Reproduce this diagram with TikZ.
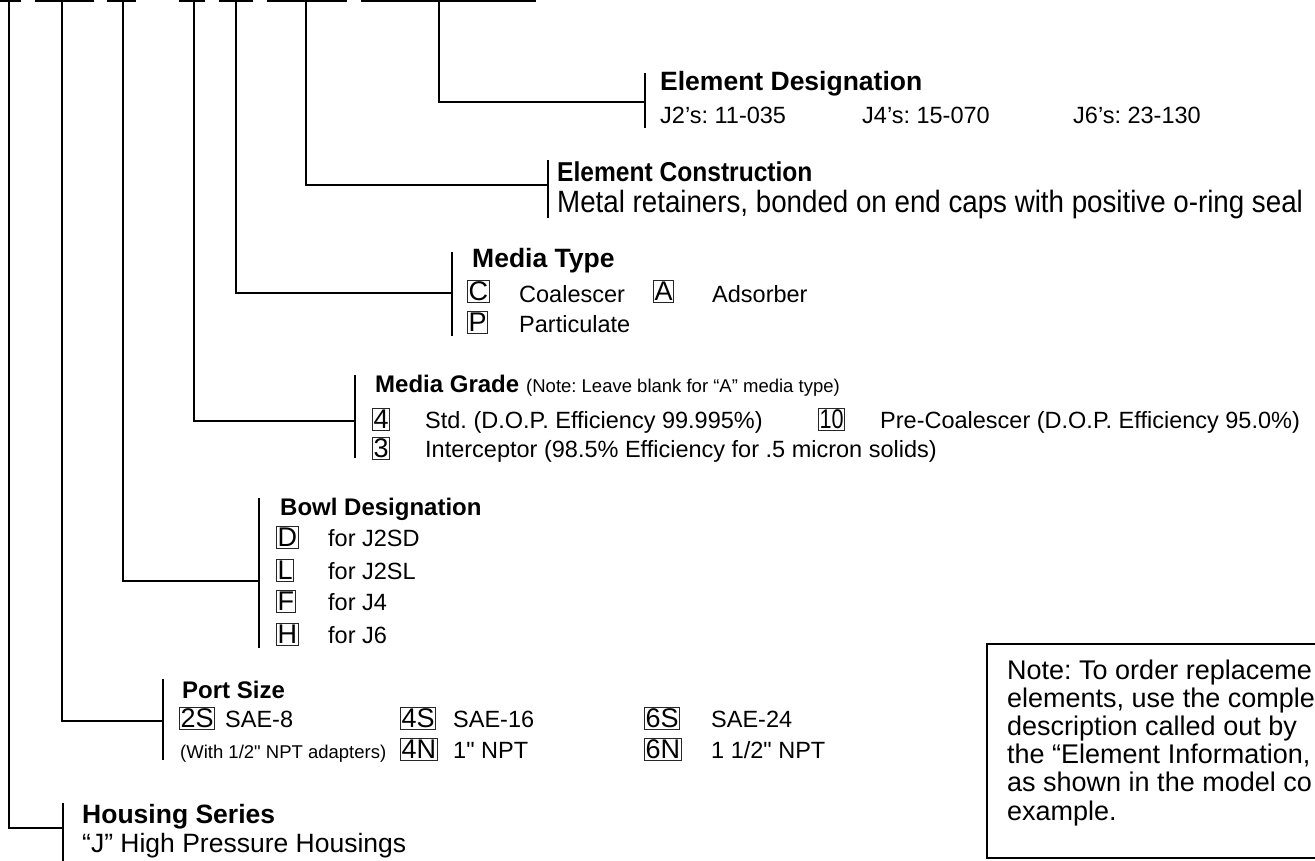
\documentclass[tikz,border=0pt]{standalone}
\usepackage{fontspec}
\setmainfont{Liberation Sans}[Ligatures=TeXOff]
\newfontfamily\narrowfont{Liberation Sans}[Ligatures=TeXOff, FakeStretch=0.9]
\newfontfamily\tightfont{Liberation Sans}[Ligatures=TeXOff, FakeStretch=0.8]
\newcommand{\fsz}[1]{\fontsize{#1}{#1}\selectfont}
\frenchspacing
\tikzset{
  lead/.style={line width=1.8pt},
  code/.style={draw=black!85, line width=0.9pt, inner xsep=1.2pt, inner ysep=1.6pt,
    text height=19pt, text depth=0pt, font=\fsz{27}, anchor=south west},
  head/.style={anchor=base west, inner sep=0pt, font=\fsz{24}\bfseries},
  bighead/.style={anchor=base west, inner sep=0pt, font=\fsz{26.5}\bfseries},
  txt/.style={anchor=base west, inner sep=0pt, font=\fsz{23.5}},
  small/.style={anchor=base west, inner sep=0pt, font=\fsz{18.5}},
}
\begin{document}
\begin{tikzpicture}[x=1pt, y=-1pt]
\useasboundingbox (0,0) rectangle (1315,861);

% model code marks at the top
\foreach \a/\b in {0/21, 35/94, 107/136, 179/205, 219/253, 267/347, 361/536}
  \draw[lead] (\a,1) -- (\b,1);

% element designation
\coordinate (ed-top) at (439,0);
\coordinate (ed-end) at (645,102);
\draw[lead] (ed-top) |- (ed-end);
\draw[lead] (645,73) -- (645,128);
\node[bighead] (ed-head) at (660,91) {Element Designation};
\node[txt] (ed-j2) at (660,124) {J2’s: 11-035};
\node[txt] (ed-j4) at (862,124) {J4’s: 15-070};
\node[txt] (ed-j6) at (1073,124) {J6’s: 23-130};

% element construction
\coordinate (ec-top) at (306,0);
\coordinate (ec-end) at (548,185);
\draw[lead] (ec-top) |- (ec-end);
\draw[lead] (548,160) -- (548,218);
\node[head, font=\narrowfont\fsz{27.3}\bfseries] (ec-head) at (557,182) {Element Construction};
\node[txt, font=\narrowfont\fsz{30.8}] (ec-text) at (557,213) {Metal retainers, bonded on end caps with positive o-ring seal};

% media type
\coordinate (mt-top) at (236,0);
\coordinate (mt-end) at (452,293);
\draw[lead] (mt-top) |- (mt-end);
\draw[lead] (452,252) -- (452,336);
\node[bighead] (mt-head) at (472,268) {Media Type};
\node[code] (mt-c) at (467,303) {C};
\node[txt] (mt-ctext) at (519,302) {Coalescer};
\node[code] (mt-a) at (653,303) {A};
\node[txt] (mt-atext) at (712,302) {Adsorber};
\node[code] (mt-p) at (467,334) {P};
\node[txt] (mt-ptext) at (519,332) {Particulate};

% media grade
\coordinate (mg-top) at (194,0);
\coordinate (mg-end) at (355,421);
\draw[lead] (mg-top) |- (mg-end);
\draw[lead] (355,375) -- (355,458);
\node[head] (mg-head) at (375,392) {Media Grade};
\node[small] (mg-note) at (526,392) {(Note: Leave blank for “A” media type)};
\node[code] (mg-4) at (372,431) {4};
\node[txt] (mg-4text) at (425,428) {Std. (D.O.P. Efficiency 99.995\%)};
\node[code, font=\tightfont\fsz{27}] (mg-10) at (818,431) {10};
\node[txt] (mg-10text) at (880,428) {Pre-Coalescer (D.O.P. Efficiency 95.0\%)};
\node[code] (mg-3) at (372,460) {3};
\node[txt] (mg-3text) at (425,457) {Interceptor (98.5\% Efficiency for .5 micron solids)};

% bowl designation
\coordinate (bd-top) at (123,0);
\coordinate (bd-end) at (259,581);
\draw[lead] (bd-top) |- (bd-end);
\draw[lead] (259,498) -- (259,648);
\node[head] (bd-head) at (280,515) {Bowl Designation};
\foreach \c/\t/\y in {D/J2SD/546, L/J2SL/579, F/J4/610, H/J6/643}{
  \node[code] (bd-\c) at (276,\y+3) {\c};
  \node[txt] (bd-\c text) at (328,\y) {for \t};
}

% port size
\coordinate (ps-top) at (62,0);
\coordinate (ps-end) at (163,721);
\draw[lead] (ps-top) |- (ps-end);
\draw[lead] (163,679) -- (163,760);
\node[head] (ps-head) at (182,698) {Port Size};
\node[code] (ps-2s) at (179,730) {2S};
\node[txt] (ps-2stext) at (225,727) {SAE-8};
\node[code] (ps-4s) at (400,730) {4S};
\node[txt] (ps-4stext) at (453,727) {SAE-16};
\node[code] (ps-6s) at (644,730) {6S};
\node[txt] (ps-6stext) at (711,727) {SAE-24};
\node[small] (ps-note) at (180,758) {(With 1/2" NPT adapters)};
\node[code] (ps-4n) at (400,761) {4N};
\node[txt] (ps-4ntext) at (453,758) {1" NPT};
\node[code] (ps-6n) at (644,761) {6N};
\node[txt] (ps-6ntext) at (711,758) {1 1/2" NPT};

% housing series
\coordinate (hs-top) at (9,0);
\coordinate (hs-end) at (63,828);
\draw[lead] (hs-top) |- (hs-end);
\draw[lead] (63,803) -- (63,861);
\node[bighead] (hs-head) at (82,823) {Housing Series};
\node[txt, font=\fsz{26.5}] (hs-text) at (82,852) {“J” High Pressure Housings};

% note box (runs off the right edge)
\draw[line width=2pt] (987,644) rectangle (1345,858);
\node[anchor=north west, inner sep=0pt, align=left, font=\fontsize{27}{28.2}\selectfont] (note)
  at (1007,659.3) {Note: To order replaceme\\elements, use the comple\\description called out by\\the “Element Information,\\as shown in the model co\\example.};
\end{tikzpicture}
\end{document}
